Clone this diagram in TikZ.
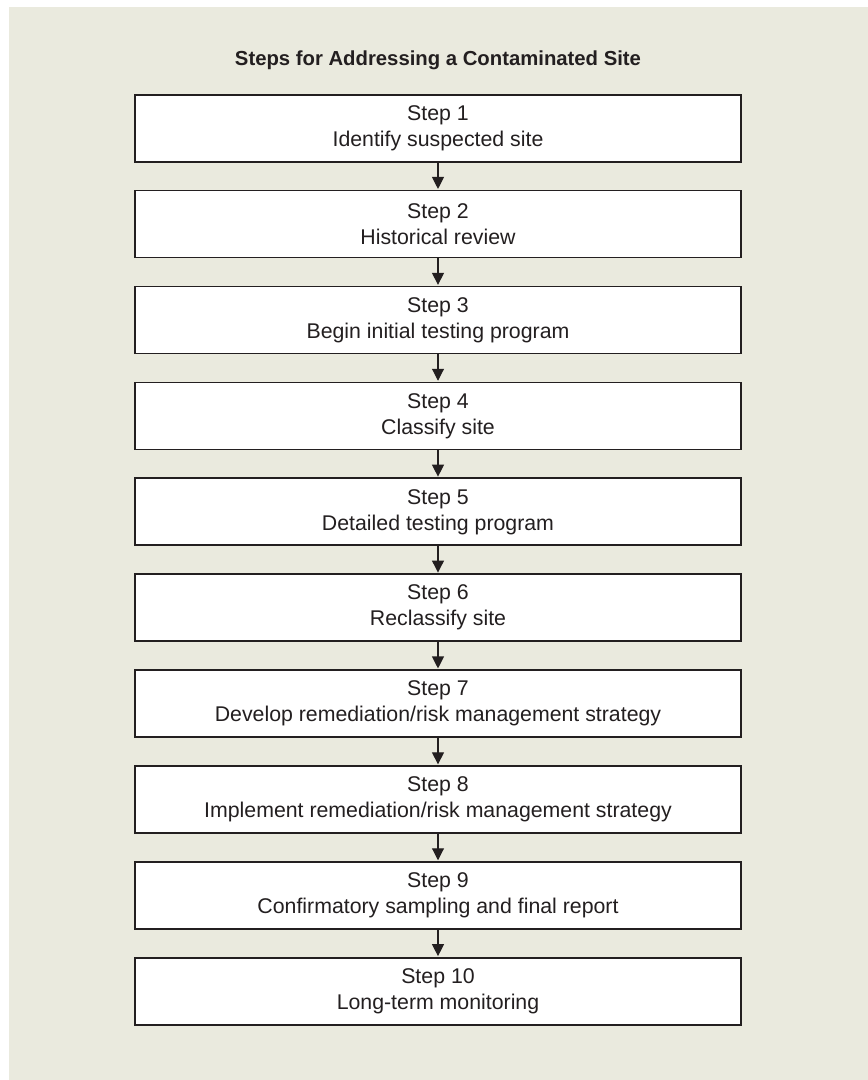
\documentclass[tikz,border=0pt]{standalone}
\usepackage{fontspec}
\setmainfont{Liberation Sans}
\usetikzlibrary{arrows.meta}
\definecolor{bgc}{RGB}{234,234,222}
\definecolor{ink}{RGB}{35,31,32}
\tikzset{
  stepbox/.style={draw=ink, line width=1.7pt, fill=white, minimum width=606pt, minimum height=67pt,
    inner sep=0pt, align=center, text=ink, font=\fontsize{21.3}{26}\selectfont},
  flow/.style={draw=ink, line width=1.1pt, -{Triangle[width=12pt,length=12pt]}, shorten >=0.8pt}
}
\begin{document}
\begin{tikzpicture}[x=1pt,y=-1pt]
\useasboundingbox (0,0) rectangle (868,1080);
\fill[bgc] (9,7) rectangle (868,1080);
\node[anchor=base, text=ink, font=\fontsize{20.3}{24}\selectfont\bfseries] (title) at (438,65) {Steps for Addressing a Contaminated Site};
\node[stepbox] (s1) at (438,128.2) {Step 1\\Identify suspected site};
\node[stepbox] (s2) at (438,224.1) {Step 2\\Historical review};
\node[stepbox] (s3) at (438,320.0) {Step 3\\Begin initial testing program};
\node[stepbox] (s4) at (438,415.9) {Step 4\\Classify site};
\node[stepbox] (s5) at (438,511.8) {Step 5\\Detailed testing program};
\node[stepbox] (s6) at (438,607.7) {Step 6\\Reclassify site};
\node[stepbox] (s7) at (438,703.6) {Step 7\\Develop remediation/risk management strategy};
\node[stepbox] (s8) at (438,799.5) {Step 8\\Implement remediation/risk management strategy};
\node[stepbox] (s9) at (438,895.4) {Step 9\\Confirmatory sampling and final report};
\node[stepbox] (s10) at (438,991.3) {Step 10\\Long-term monitoring};
\foreach \a/\b in {s1/s2,s2/s3,s3/s4,s4/s5,s5/s6,s6/s7,s7/s8,s8/s9,s9/s10}
  \draw[flow] (\a.south) -- (\b.north);
\end{tikzpicture}
\end{document}
